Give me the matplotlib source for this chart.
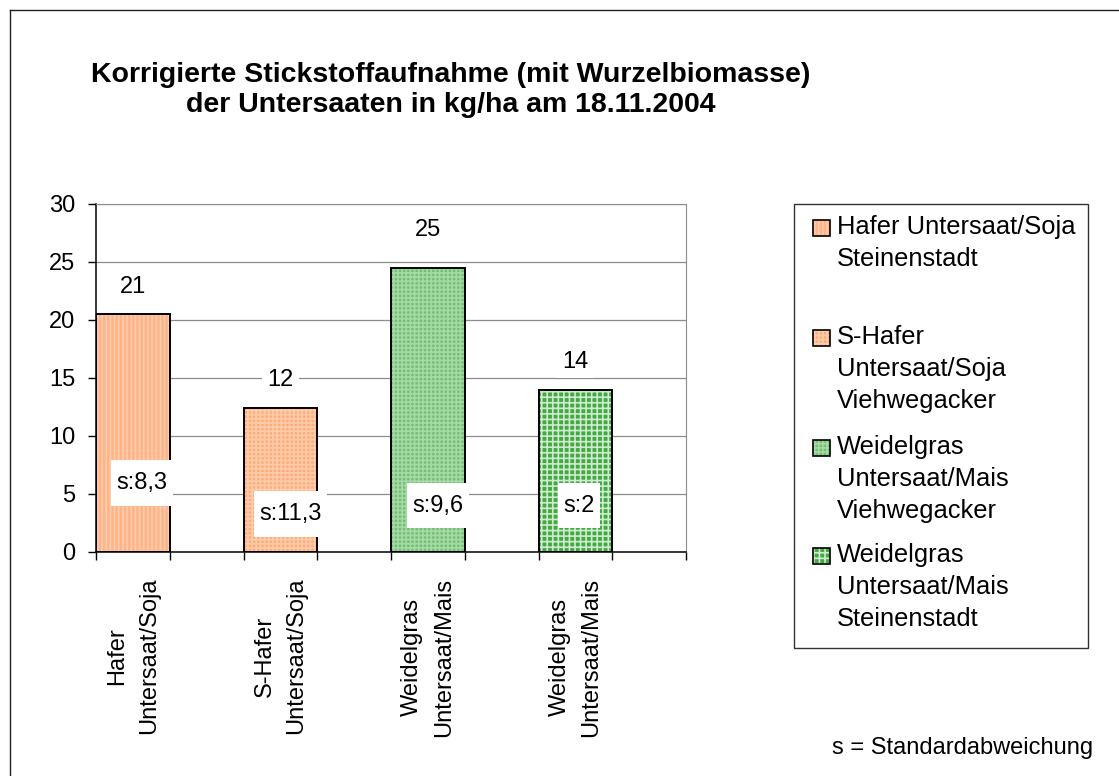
import matplotlib
import numpy as np

matplotlib.use('Agg')
import matplotlib.pyplot as plt
from matplotlib.patches import Rectangle
from matplotlib.lines import Line2D
from matplotlib.path import Path

plt.rcParams['font.family'] = ['Liberation Sans', 'DejaVu Sans']
plt.rcParams['hatch.linewidth'] = 1.2

# Daten
categories = ["Hafer\nUntersaat/Soja", "S-Hafer\nUntersaat/Soja",
              "Weidelgras\nUntersaat/Mais", "Weidelgras\nUntersaat/Mais"]
values = [20.5, 12.4, 24.5, 14.0]
value_labels = ["21", "12", "25", "14"]
sd_labels = ["s:8,3", "s:11,3", "s:9,6", "s:2"]
legend_labels = ["Hafer Untersaat/Soja\nSteinenstadt",
                 "S-Hafer\nUntersaat/Soja\nViehwegacker",
                 "Weidelgras\nUntersaat/Mais\nViehwegacker",
                 "Weidelgras\nUntersaat/Mais\nSteinenstadt"]
yticks = [0, 5, 10, 15, 20, 25, 30]

# Stil
face_colors = ['#FFB487', '#FFAC7A', '#72C072', '#45A845']
hatch_colors = ['#FFCDAE', '#FFCBA8', '#A6D9A6', '#CDEBCD']
hatches = ['||||', '++++', '++++', '+++']
bar_x = [0, 2, 4, 6]          # jede zweite Kategorie-Spalte
label_dy = [27, 28, 38, 28]   # Pixel ueber dem Balken
sd_y = [5.95, 3.3, 4.0, 4.0]
sd_dx = [9, 10, 10, 4]


def tall_box(x0, y0, width, height, mutation_size):
    # weisses Feld, oben/unten mehr Rand als links/rechts
    px = 0.23 * mutation_size
    py = 0.5 * mutation_size
    x0, y0 = x0 - px, y0 - py
    x1, y1 = x0 + width + 2 * px, y0 + height + 2 * py
    return Path([(x0, y0), (x1, y0), (x1, y1), (x0, y1), (x0, y0)], closed=True)


W, H = 1119, 776
fig = plt.figure(figsize=(W / 100, H / 100), dpi=100)
ax = fig.add_axes([96 / W, 1 - 552 / H, 590 / W, 348 / H])

for i in range(len(values)):
    ax.bar(bar_x[i], values[i], width=1.0, color=face_colors[i],
           edgecolor=hatch_colors[i], hatch=hatches[i], linewidth=0, zorder=2)
    ax.bar(bar_x[i], values[i], width=1.0, fill=False,
           edgecolor='black', linewidth=1.4, zorder=3)
    ax.annotate(value_labels[i], (bar_x[i], values[i]), xytext=(0, label_dy[i]),
                textcoords='offset pixels', ha='center', va='center', fontsize=17,
                bbox=dict(boxstyle='square,pad=0.22', fc='white', ec='none'), zorder=4)
    ax.annotate(sd_labels[i], (bar_x[i], sd_y[i]), xytext=(sd_dx[i], 0),
                textcoords='offset pixels', ha='center', va='center', fontsize=17,
                bbox=dict(boxstyle=tall_box, fc='white', ec='none'), zorder=5)

ax.set_xlim(-0.5, 7.5)
ax.set_ylim(0, 30)
ax.set_yticks(yticks)
ax.set_xticks(bar_x)
ax.set_xticklabels(categories, rotation=90, fontsize=17, linespacing=1.57)
ax.set_xticks(np.arange(-0.5, 8, 1), minor=True)
ax.tick_params(axis='x', which='major', length=0, pad=18.5)
ax.tick_params(axis='x', which='minor', length=5.8, width=1, direction='out')
ax.tick_params(axis='y', length=5.8, width=1, pad=9, labelsize=17)

ax.yaxis.grid(True, color='#8c8c8c', linewidth=0.9)
ax.set_axisbelow(True)
ax.spines['left'].set_linewidth(1.1)
ax.spines['bottom'].set_linewidth(1.1)
ax.spines['top'].set_color('#8c8c8c')
ax.spines['right'].set_color('#8c8c8c')

# Titel
fig.text(451 / W, 1 - 90 / H,
         "Korrigierte Stickstoffaufnahme (mit Wurzelbiomasse)\nder Untersaaten in kg/ha am 18.11.2004",
         ha='center', va='center', fontsize=20.5, fontweight='bold', linespacing=1.2)

# Legende
fig.add_artist(Rectangle((794 / W, 1 - 648 / H), 294 / W, 444 / H,
                         transform=fig.transFigure, fill=False, ec='#333333', lw=1))
baselines = [234, 344, 454, 562]
for i in range(len(legend_labels)):
    yc = baselines[i] - 6
    fig.add_artist(Rectangle((813 / W, 1 - (yc + 8) / H), 17 / W, 16 / H,
                             transform=fig.transFigure, fc=face_colors[i],
                             ec=hatch_colors[i], hatch=hatches[i], lw=0))
    fig.add_artist(Rectangle((813 / W, 1 - (yc + 8) / H), 17 / W, 16 / H,
                             transform=fig.transFigure, fill=False, ec='black', lw=1.2))
    fig.text(837 / W, 1 - (baselines[i] - 19) / H, legend_labels[i],
             ha='left', va='top', fontsize=18.4, linespacing=1.42)

fig.text(832 / W, 1 - 748 / H, "s = Standardabweichung",
         ha='left', va='center', fontsize=17)

# Rahmen
fig.add_artist(Line2D([10 / W, 1], [1 - 10 / H, 1 - 10 / H],
                      transform=fig.transFigure, color='#222222', lw=1))
fig.add_artist(Line2D([10 / W, 10 / W], [1 - 10 / H, 0],
                      transform=fig.transFigure, color='#222222', lw=1))

fig.savefig('out.png', dpi=100)
